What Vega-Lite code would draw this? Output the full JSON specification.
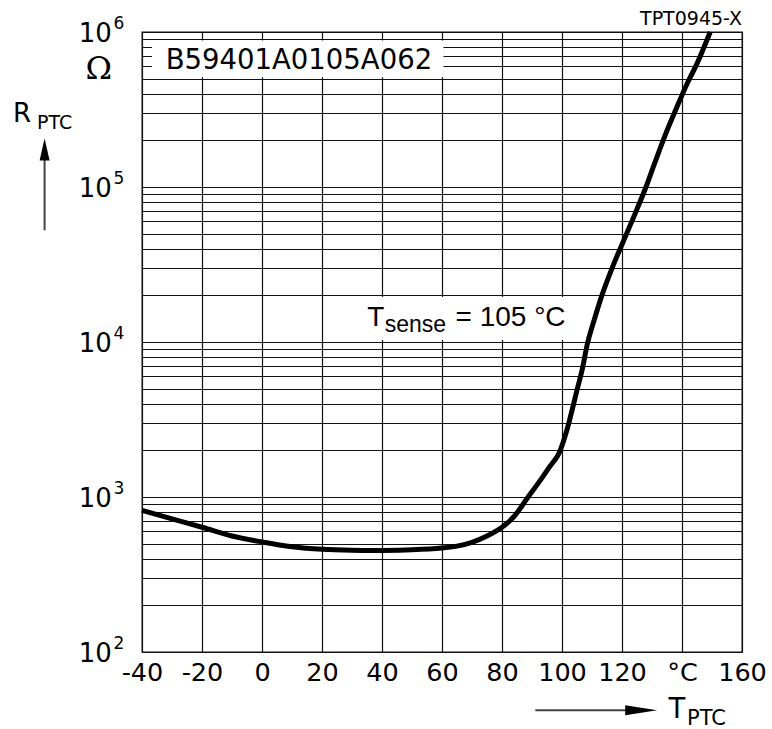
{
  "$schema": "https://vega.github.io/schema/vega-lite/v6.json",
  "width": 600,
  "height": 620,
  "autosize": "none",
  "padding": {"left": 142, "top": 32, "right": 30, "bottom": 77},
  "background": "white",
  "config": {
    "view": {"stroke": "#111", "strokeWidth": 1.3},
    "font": "Liberation Sans"
  },
  "layer": [
    {
      "data": {"values": [{}]},
      "mark": {"type": "rect", "fill": "white", "strokeWidth": 0},
      "encoding": {
        "x": {"datum": -36.7, "type": "quantitative"},
        "x2": {"datum": 60.5},
        "y": {"datum": 880000, "type": "quantitative"},
        "y2": {"datum": 510000}
      }
    },
    {
      "data": {"values": [{}]},
      "mark": {"type": "rect", "fill": "white", "strokeWidth": 0},
      "encoding": {
        "x": {"datum": 29.4, "type": "quantitative"},
        "x2": {"datum": 109.7},
        "y": {"datum": 10300, "type": "quantitative"},
        "y2": {"datum": 19500}
      }
    },
    {
      "data": {"values": [
        {"T": -40, "R": 820}, {"T": -30, "R": 722}, {"T": -20, "R": 638},
        {"T": -10, "R": 560}, {"T": 0, "R": 513}, {"T": 10, "R": 478},
        {"T": 20, "R": 460}, {"T": 30, "R": 453}, {"T": 40, "R": 452},
        {"T": 50, "R": 456}, {"T": 60, "R": 468}, {"T": 65, "R": 482},
        {"T": 70, "R": 510}, {"T": 75, "R": 560}, {"T": 80, "R": 638},
        {"T": 84, "R": 748}, {"T": 88.3, "R": 975}, {"T": 92.8, "R": 1285},
        {"T": 95.5, "R": 1530}, {"T": 98.9, "R": 1900}, {"T": 101.5, "R": 2650},
        {"T": 103.3, "R": 3600}, {"T": 105, "R": 4900}, {"T": 106.7, "R": 6600},
        {"T": 108.6, "R": 10000}, {"T": 110.7, "R": 13800}, {"T": 113.3, "R": 20000},
        {"T": 116.7, "R": 30000}, {"T": 119.4, "R": 40000}, {"T": 122, "R": 52500},
        {"T": 125, "R": 72000}, {"T": 128, "R": 100000}, {"T": 130.8, "R": 141000},
        {"T": 134.6, "R": 221000}, {"T": 138.3, "R": 328000}, {"T": 141.7, "R": 464000},
        {"T": 145, "R": 625000}, {"T": 149.4, "R": 1000000}
      ]},
      "mark": {"type": "line", "color": "#000", "strokeWidth": 5, "interpolate": "catmull-rom", "strokeCap": "butt"},
      "encoding": {
        "x": {
          "field": "T", "type": "quantitative",
          "scale": {"domain": [-40, 160], "nice": false, "zero": false},
          "axis": {
            "title": null,
            "values": [-40, -30, -20, -10, 0, 10, 20, 30, 40, 50, 60, 70, 80, 90, 100, 110, 120, 130, 140, 150, 160],
            "labelExpr": "datum.value % 20 != 0 ? '' : (datum.value == 140 ? '\u00a0\u00a0°C' : (datum.value < 0 ? '-' + abs(datum.value) : '' + datum.value))",
            "grid": true, "gridColor": "#111", "gridWidth": 1.2, "gridOpacity": 1,
            "ticks": false, "tickSize": 0, "domain": false,
            "labelFont": "DejaVu Sans", "labelFontSize": 25.5, "labelColor": "#000",
            "labelPadding": 8.6, "labelFlush": false, "labelOverlap": false, "labelBound": false
          }
        },
        "y": {
          "field": "R", "type": "quantitative",
          "scale": {"type": "log", "domain": [100, 1000000], "nice": false, "zero": false},
          "axis": {
            "title": null,
            "values": [100, 200, 300, 400, 500, 600, 700, 800, 900,
                       1000, 2000, 3000, 4000, 5000, 6000, 7000, 8000, 9000,
                       10000, 20000, 30000, 40000, 50000, 60000, 70000, 80000, 90000,
                       100000, 200000, 300000, 400000, 500000, 600000, 700000, 800000, 900000,
                       1000000],
            "labelExpr": "indexof([100, 1000, 10000, 100000, 1000000], datum.value) >= 0 ? '10' : ''",
            "grid": true, "gridColor": "#111", "gridWidth": 1.2, "gridOpacity": 1,
            "ticks": false, "tickSize": 0, "domain": false,
            "labelFont": "DejaVu Sans", "labelFontSize": 26, "labelColor": "#000",
            "labelPadding": 30.6, "labelOffset": 1, "labelOverlap": false, "labelBound": false, "labelFlush": false
          }
        }
      }
    },
    {
      "data": {"values": [
        {"R": 100, "e": "2"}, {"R": 1000, "e": "3"}, {"R": 10000, "e": "4"},
        {"R": 100000, "e": "5"}, {"R": 1000000, "e": "6"}
      ]},
      "mark": {"type": "text", "font": "DejaVu Sans", "fontSize": 17, "align": "left", "baseline": "alphabetic", "dx": -28.4, "dy": -2.7, "color": "#000"},
      "encoding": {
        "x": {"datum": -40, "type": "quantitative"},
        "y": {"field": "R", "type": "quantitative"},
        "text": {"field": "e"}
      }
    },
    {
      "data": {"values": [{}]},
      "mark": {"type": "text", "text": "B59401A0105A062", "font": "DejaVu Sans", "fontSize": 27.5, "align": "center", "baseline": "alphabetic", "color": "#000"},
      "encoding": {
        "x": {"datum": 12.3, "type": "quantitative"},
        "y": {"datum": 574000, "type": "quantitative"}
      }
    },
    {
      "data": {"values": [{}]},
      "mark": {"type": "text", "text": "T", "font": "Liberation Sans", "fontSize": 28, "align": "left", "baseline": "alphabetic", "color": "#000"},
      "encoding": {
        "x": {"datum": 35.1, "type": "quantitative"},
        "y": {"datum": 12759, "type": "quantitative"}
      }
    },
    {
      "data": {"values": [{}]},
      "mark": {"type": "text", "text": "sense", "font": "Liberation Sans", "fontSize": 23, "align": "left", "baseline": "alphabetic", "color": "#000"},
      "encoding": {
        "x": {"datum": 40.9, "type": "quantitative"},
        "y": {"datum": 11550, "type": "quantitative"}
      }
    },
    {
      "data": {"values": [{}]},
      "mark": {"type": "text", "text": "= 105 °C", "font": "Liberation Sans", "fontSize": 28, "align": "left", "baseline": "alphabetic", "color": "#000"},
      "encoding": {
        "x": {"datum": 64.5, "type": "quantitative"},
        "y": {"datum": 12759, "type": "quantitative"}
      }
    },
    {
      "data": {"values": [{}]},
      "mark": {"type": "text", "text": "TPT0945-X", "font": "DejaVu Sans", "fontSize": 19, "align": "right", "baseline": "alphabetic", "color": "#000"},
      "encoding": {
        "x": {"datum": 160, "type": "quantitative"},
        "y": {"datum": 1104600, "type": "quantitative"}
      }
    },
    {
      "data": {"values": [{}]},
      "mark": {"type": "text", "text": "\u03a9", "font": "DejaVu Serif", "fontSize": 32, "align": "center", "baseline": "alphabetic", "color": "#000"},
      "encoding": {
        "x": {"datum": -54.4, "type": "quantitative"},
        "y": {"datum": 500500, "type": "quantitative"}
      }
    },
    {
      "data": {"values": [{}]},
      "mark": {"type": "text", "text": "R", "font": "DejaVu Sans", "fontSize": 26, "align": "left", "baseline": "alphabetic", "color": "#000"},
      "encoding": {
        "x": {"datum": -83, "type": "quantitative"},
        "y": {"datum": 262700, "type": "quantitative"}
      }
    },
    {
      "data": {"values": [{}]},
      "mark": {"type": "text", "text": "PTC", "font": "DejaVu Sans", "fontSize": 19, "align": "left", "baseline": "alphabetic", "color": "#000"},
      "encoding": {
        "x": {"datum": -75, "type": "quantitative"},
        "y": {"datum": 238100, "type": "quantitative"}
      }
    },
    {
      "data": {"values": [{}]},
      "mark": {"type": "text", "text": "T", "font": "DejaVu Sans", "fontSize": 27.5, "align": "left", "baseline": "alphabetic", "color": "#000"},
      "encoding": {
        "x": {"datum": 135.5, "type": "quantitative"},
        "y": {"datum": 37.35, "type": "quantitative"}
      }
    },
    {
      "data": {"values": [{}]},
      "mark": {"type": "text", "text": "PTC", "font": "DejaVu Sans", "fontSize": 21, "align": "left", "baseline": "alphabetic", "color": "#000"},
      "encoding": {
        "x": {"datum": 141.7, "type": "quantitative"},
        "y": {"datum": 33.66, "type": "quantitative"}
      }
    },
    {
      "data": {"values": [{}]},
      "mark": {"type": "rule", "color": "#444", "strokeWidth": 2},
      "encoding": {
        "x": {"datum": -72.47, "type": "quantitative"},
        "y": {"datum": 52550, "type": "quantitative"},
        "y2": {"datum": 150000}
      }
    },
    {
      "data": {"values": [{}]},
      "mark": {"type": "point", "shape": "M0,-1L0.4545,1L-0.4545,1Z", "size": 484, "filled": true, "color": "#000", "opacity": 1, "strokeWidth": 0},
      "encoding": {
        "x": {"datum": -72.47, "type": "quantitative"},
        "y": {"datum": 174600, "type": "quantitative"}
      }
    },
    {
      "data": {"values": [{}]},
      "mark": {"type": "rule", "color": "#444", "strokeWidth": 2},
      "encoding": {
        "x": {"datum": 91.1, "type": "quantitative"},
        "x2": {"datum": 121.5},
        "y": {"datum": 42.06, "type": "quantitative"}
      }
    },
    {
      "data": {"values": [{}]},
      "mark": {"type": "point", "shape": "M1,0L-1,-0.3125L-1,0.3125Z", "size": 1024, "filled": true, "color": "#000", "opacity": 1, "strokeWidth": 0},
      "encoding": {
        "x": {"datum": 126.4, "type": "quantitative"},
        "y": {"datum": 42.06, "type": "quantitative"}
      }
    }
  ]
}
